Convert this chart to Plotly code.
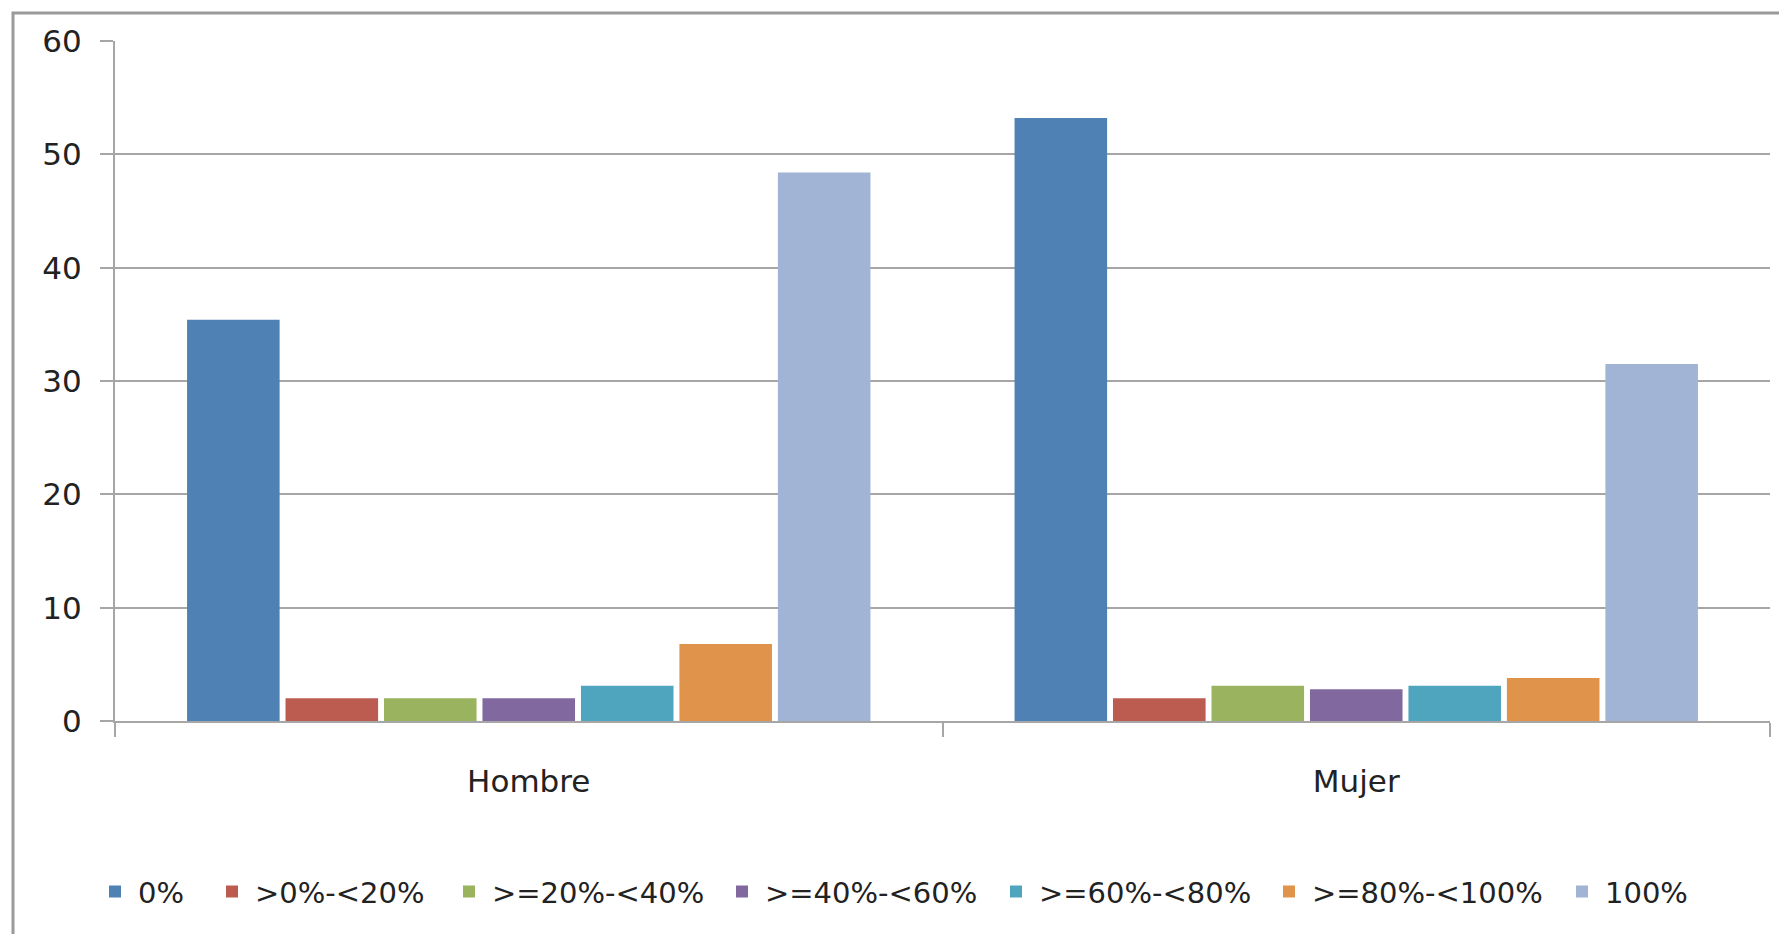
import plotly.graph_objects as go

W, H = 1787, 934

categorias = ["Hombre", "Mujer"]
series = ["0%", ">0%-<20%", ">=20%-<40%", ">=40%-<60%", ">=60%-<80%", ">=80%-<100%", "100%"]
valores = {
    "0%": [35.4, 53.2],
    ">0%-<20%": [2.0, 2.0],
    ">=20%-<40%": [2.0, 3.1],
    ">=40%-<60%": [2.0, 2.8],
    ">=60%-<80%": [3.1, 3.1],
    ">=80%-<100%": [6.8, 3.8],
    "100%": [48.4, 31.5],
}
colores = ["#4F81B5", "#BC5B50", "#9AB35E", "#8169A0", "#50A5BE", "#E0944B", "#A2B4D6"]
y_ticks = [0, 10, 20, 30, 40, 50, 60]

# margenes en pixeles (area de trazado); la pagina agrega ~8px de margen
ml, mr, mt, mb = 107, 25, 33, 221
pw, ph = W - ml - mr, H - mt - mb

# posicion (px) del simbolo de cada entrada de leyenda, como en el original
leyenda_px = [101, 218, 455, 728, 1002, 1275, 1568]

fig = go.Figure()
layout_leyendas = {}
for i, (s, c) in enumerate(zip(series, colores)):
    key = "legend" if i == 0 else f"legend{i + 1}"
    fig.add_trace(go.Bar(x=categorias, y=valores[s], name=s, marker_color=c,
                         marker_line=dict(width=0), legend=key))
    layout_leyendas[key] = dict(
        orientation="h", x=(leyenda_px[i] - 17 - ml) / pw, xanchor="left",
        y=-0.251, yanchor="middle", font=dict(size=29), itemwidth=36,
        bgcolor="rgba(0,0,0,0)",
    )

fig.update_layout(
    width=W, height=H,
    barmode="group", bargap=0.167, bargroupgap=0.06,
    paper_bgcolor="white", plot_bgcolor="white",
    font=dict(family="DejaVu Sans", color="#222222", size=30),
    margin=dict(l=ml, r=mr, t=mt, b=mb),
    showlegend=True,
    **layout_leyendas,
)
fig.update_xaxes(showline=True, linecolor="#a6a6a6", linewidth=2,
                 ticks="outside", tickson="boundaries", ticklen=14, tickcolor="#a6a6a6",
                 tickwidth=2, showgrid=False, tickfont=dict(size=31), ticklabelstandoff=32)
fig.update_yaxes(range=[0, 60], tickvals=y_ticks, showline=True, linecolor="#a6a6a6",
                 linewidth=2, ticks="outside", ticklen=13, tickcolor="#a6a6a6", tickwidth=2,
                 showgrid=True, gridcolor="#a6a6a6", gridwidth=2, zeroline=False,
                 tickfont=dict(size=31), ticklabelstandoff=12)

# marco exterior del grafico
fig.add_shape(type="rect", xref="paper", yref="paper",
              x0=(5 - ml) / pw, x1=(W + 20 - ml) / pw,
              y0=-(H + 20 - mt - ph) / ph, y1=(H - 5 - mb) / ph,
              line=dict(color="#9a9a9a", width=3), layer="below")

fig.write_html("out.html")
